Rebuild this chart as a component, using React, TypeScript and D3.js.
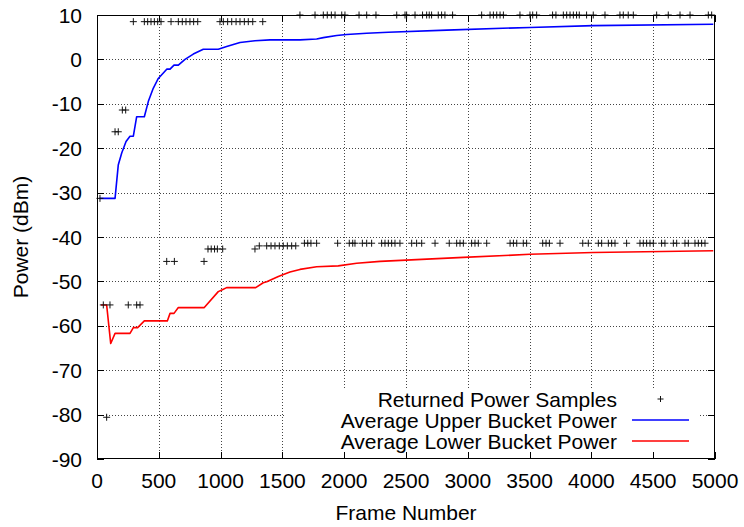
import React from "react";
import * as d3 from "d3";

// Axis ticks
const xTicks = [0, 500, 1000, 1500, 2000, 2500, 3000, 3500, 4000, 4500, 5000];
const yTicks = [-90, -80, -70, -60, -50, -40, -30, -20, -10, 0, 10];

// Returned power samples: [frame, power dBm]
const samplePoints: [number, number][] = [
  [24, -31.3], [51, -55.3], [78, -80.6], [105, -55.3], [146, -16.3], [172, -16.3],
  [205, -11.4], [232, -11.4], [253, -55.3], [321, -55.3], [348, -55.3],
  [294, 8.5], [383, 8.5], [410, 8.5], [437, 8.5], [464, 8.5], [491, 8.5], [518, 8.5],
  [599, 8.5], [658, 8.5], [690, 8.5], [720, 8.5], [752, 8.5], [782, 8.5], [815, 8.5],
  [995, 8.5], [1022, 8.5], [1057, 8.5], [1090, 8.5], [1125, 8.5], [1157, 8.5],
  [1192, 8.5], [1224, 8.5], [1260, 8.5], [1341, 8.5],
  [564, -45.5], [626, -45.5], [866, -45.5],
  [898, -42.7], [924, -42.7], [951, -42.7], [974, -42.7], [1017, -42.7],
  [1278, -42.7], [1313, -42.0], [1373, -42.0], [1408, -42.0], [1440, -42.0],
  [1475, -42.0], [1507, -42.0], [1540, -42.0], [1575, -42.0], [1608, -42.0],
  [1678, -41.4], [1705, -41.4], [1731, -41.4], [1777, -41.4], [1947, -41.4],
  [2041, -41.4], [2069, -41.4], [2087, -41.4], [2147, -41.4], [2182, -41.4],
  [2222, -41.4], [2303, -41.4], [2330, -41.4], [2357, -41.4], [2384, -41.4],
  [2411, -41.4], [2451, -41.4], [2546, -41.4], [2586, -41.4], [2627, -41.4],
  [2735, -41.4], [2850, -41.4], [2910, -41.4], [2937, -41.4], [2964, -41.4],
  [3031, -41.4], [3058, -41.4], [3085, -41.4], [3153, -41.4], [3342, -41.4],
  [3369, -41.4], [3396, -41.4], [3449, -41.4], [3476, -41.4], [3606, -41.4],
  [3633, -41.4], [3660, -41.4], [3746, -41.4], [3930, -41.4], [3975, -41.4],
  [4056, -41.4], [4083, -41.4], [4137, -41.4], [4164, -41.4], [4191, -41.4],
  [4285, -41.4], [4393, -41.4], [4420, -41.4], [4447, -41.4], [4474, -41.4],
  [4501, -41.4], [4568, -41.4], [4595, -41.4], [4663, -41.4], [4690, -41.4],
  [4757, -41.4], [4784, -41.4], [4838, -41.4], [4865, -41.4], [4892, -41.4],
  [4919, -41.4],
  [1642, 10], [1764, 10], [1831, 10], [1863, 10], [1896, 10], [1926, 10],
  [1980, 10], [2006, 10], [2120, 10], [2182, 10], [2257, 10],
  [2425, 10], [2492, 10], [2505, 10], [2573, 10], [2634, 10], [2667, 10],
  [2688, 10], [2707, 10], [2761, 10], [2788, 10], [2815, 10], [2877, 10],
  [3112, 10], [3180, 10], [3207, 10], [3234, 10], [3261, 10], [3288, 10],
  [3422, 10], [3503, 10], [3525, 10], [3557, 10], [3686, 10], [3713, 10],
  [3773, 10], [3800, 10], [3827, 10], [3854, 10], [3880, 10], [3902, 10],
  [3961, 10], [4015, 10], [4110, 10], [4231, 10], [4258, 10], [4298, 10],
  [4339, 10], [4528, 10], [4622, 10], [4717, 10], [4798, 10], [4946, 10], [4973, 10],
];

// Running average of the upper bucket
const upperFrames = [20, 146, 172, 200, 235, 267, 294, 321, 383, 415, 455, 496, 564, 591, 623, 658, 712, 779, 860, 981, 1049, 1157, 1278, 1400, 1642, 1777, 1831, 1939, 2020, 2182, 2357, 2829, 3503, 4015, 4986];
const upperPower = [-31.3, -31.3, -23.8, -21.1, -18.5, -17.3, -17.3, -12.9, -12.9, -9.5, -6.5, -4.3, -2.2, -2.2, -1.3, -1.3, 0.0, 1.2, 2.3, 2.3, 2.9, 3.8, 4.2, 4.4, 4.4, 4.6, 4.9, 5.4, 5.6, 5.9, 6.1, 6.6, 7.2, 7.6, 7.9];

// Running average of the lower bucket
const lowerFrames = [32, 78, 111, 146, 267, 294, 329, 383, 569, 591, 623, 658, 868, 981, 1014, 1049, 1284, 1345, 1373, 1467, 1561, 1642, 1777, 1952, 2101, 2290, 2964, 3503, 4015, 4986];
const lowerPower = [-55.3, -55.3, -64.0, -61.7, -61.7, -60.4, -60.4, -58.9, -58.9, -57.2, -57.2, -55.9, -55.9, -52.3, -51.9, -51.4, -51.4, -50.3, -50.1, -48.9, -47.9, -47.3, -46.7, -46.5, -45.9, -45.5, -44.6, -43.9, -43.5, -43.1];

const legendLabels = ["Returned Power Samples", "Average Upper Bucket Power", "Average Lower Bucket Power"];

const W = 744;
const H = 527;
const M = { left: 97, right: 715, top: 15, bottom: 459 };
const FONT = "'Liberation Sans', Arial, Helvetica, sans-serif";

export default function App() {
  const x = d3.scaleLinear().domain([0, 5000]).range([M.left, M.right]);
  const y = d3.scaleLinear().domain([-90, 10]).range([M.bottom, M.top]);

  const line = d3
    .line<[number, number]>()
    .x((d) => x(d[0]))
    .y((d) => y(d[1]));

  const upper: [number, number][] = upperFrames.map((f, i) => [f, upperPower[i]]);
  const lower: [number, number][] = lowerFrames.map((f, i) => [f, lowerPower[i]]);

  const tick = 7;
  const cross = (cx: number, cy: number, r: number, key: string | number) => (
    <path
      key={key}
      d={`M${cx - r},${cy}H${cx + r}M${cx},${cy - r}V${cy + r}`}
      stroke="#111"
      strokeWidth={1}
      fill="none"
    />
  );

  const legend = { x0: 284, y0: 388, x1: 700, y1: 459, textRight: 617, sx0: 632, sx1: 689 };
  const legendRowY = [399, 420, 441];

  return (
    <svg
      width={W}
      height={H}
      style={{ position: "absolute", left: 0, top: 0, background: "#fff" }}
      fontFamily={FONT}
    >
      <rect x={0} y={0} width={W} height={H} fill="#fff" />

      {/* grid */}
      <g stroke="#444" strokeWidth={1} strokeDasharray="1,2" shapeRendering="crispEdges">
        {xTicks.slice(1, -1).map((t) => (
          <line key={"gx" + t} x1={Math.round(x(t)) + 0.5} x2={Math.round(x(t)) + 0.5} y1={M.top} y2={M.bottom} />
        ))}
        {yTicks.slice(1, -1).map((t) => (
          <line key={"gy" + t} x1={M.left} x2={M.right} y1={Math.round(y(t)) + 0.5} y2={Math.round(y(t)) + 0.5} />
        ))}
      </g>

      {/* key background */}
      <rect x={legend.x0} y={legend.y0} width={legend.x1 - legend.x0} height={legend.y1 - legend.y0} fill="#fff" />

      {/* ticks on all four sides */}
      <g stroke="#000" strokeWidth={1} shapeRendering="crispEdges">
        {xTicks.map((t) => {
          const px = Math.round(x(t)) + 0.5;
          return (
            <g key={"tx" + t}>
              <line x1={px} x2={px} y1={M.bottom} y2={M.bottom - tick} />
              <line x1={px} x2={px} y1={M.top} y2={M.top + tick} />
            </g>
          );
        })}
        {yTicks.map((t) => {
          const py = Math.round(y(t)) + 0.5;
          return (
            <g key={"ty" + t}>
              <line x1={M.left} x2={M.left + tick} y1={py} y2={py} />
              <line x1={M.right} x2={M.right - tick} y1={py} y2={py} />
            </g>
          );
        })}
      </g>

      {/* lines */}
      <path d={line(upper) || ""} fill="none" stroke="#0000ff" strokeWidth={1.6} strokeLinejoin="round" />
      <path d={line(lower) || ""} fill="none" stroke="#ff0000" strokeWidth={1.6} strokeLinejoin="round" />

      {/* samples */}
      <g>{samplePoints.map((p, i) => cross(x(p[0]), y(p[1]), 3.5, i))}</g>

      {/* border */}
      <rect
        x={M.left + 0.5}
        y={M.top + 0.5}
        width={M.right - M.left - 1}
        height={M.bottom - M.top - 1}
        fill="none"
        stroke="#000"
        strokeWidth={1.5}
        shapeRendering="crispEdges"
      />

      {/* tick labels */}
      <g fontSize={21} fill="#000">
        {yTicks.map((t) => (
          <text key={"ly" + t} x={82} y={y(t)} textAnchor="end" dominantBaseline="central">
            {t}
          </text>
        ))}
        {xTicks.map((t) => (
          <text key={"lx" + t} x={x(t)} y={488} textAnchor="middle">
            {t}
          </text>
        ))}
      </g>

      {/* axis titles */}
      <text x={(M.left + M.right) / 2} y={520} textAnchor="middle" fontSize={21}>
        Frame Number
      </text>
      <text transform={`translate(28,${(M.top + M.bottom) / 2}) rotate(-90)`} textAnchor="middle" fontSize={21}>
        Power (dBm)
      </text>

      {/* key */}
      <g fontSize={21}>
        {legendLabels.map((lab, i) => (
          <text key={lab} x={legend.textRight} y={legendRowY[i]} textAnchor="end" dominantBaseline="central">
            {lab}
          </text>
        ))}
        {cross((legend.sx0 + legend.sx1) / 2, legendRowY[0], 3, "lk")}
        <line x1={legend.sx0} x2={legend.sx1} y1={legendRowY[1]} y2={legendRowY[1]} stroke="#0000ff" strokeWidth={1.6} />
        <line x1={legend.sx0} x2={legend.sx1} y1={legendRowY[2]} y2={legendRowY[2]} stroke="#ff0000" strokeWidth={1.6} />
      </g>
    </svg>
  );
}
